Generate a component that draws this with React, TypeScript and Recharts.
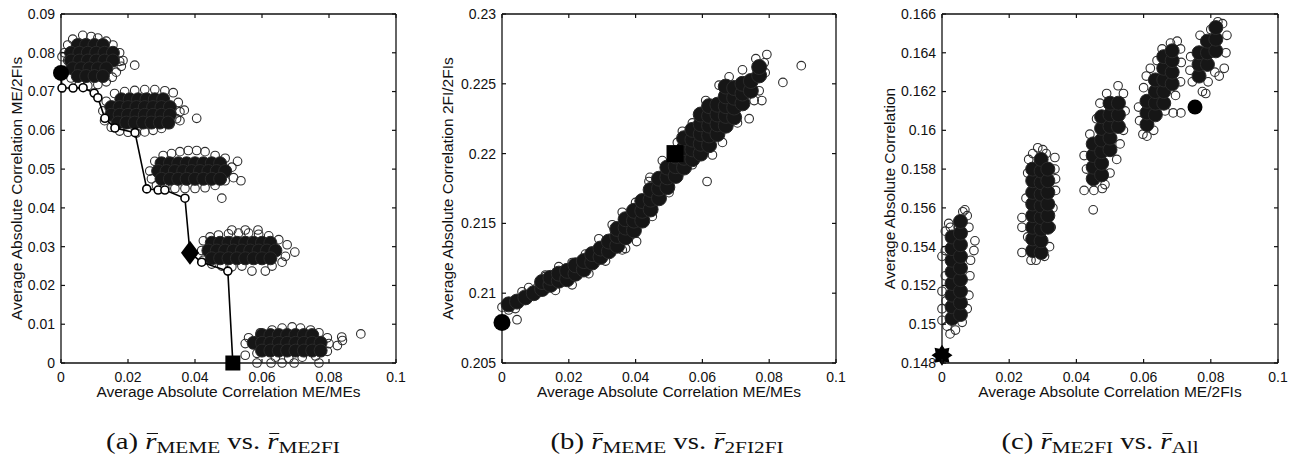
import React from 'react';
import { ScatterChart, Scatter, XAxis, YAxis } from 'recharts';

type P = [number, number];

// ---------------- Panel (a): r_MEME vs r_ME2FI ----------------
const aXTicks = [0, 0.02, 0.04, 0.06, 0.08, 0.1];
const aYTicks = [0, 0.01, 0.02, 0.03, 0.04, 0.05, 0.06, 0.07, 0.08, 0.09];
const aCore: P[] = [
  [0.005, 0.082], [0.0075, 0.082], [0.01, 0.082], [0.0125, 0.082],
  [0.003, 0.08], [0.0055, 0.08], [0.008, 0.08], [0.0105, 0.08], [0.013, 0.08], [0.0155, 0.08],
  [0.003, 0.078], [0.0055, 0.078], [0.008, 0.078], [0.0105, 0.078], [0.013, 0.078], [0.0155, 0.078],
  [0.0035, 0.076], [0.006, 0.076], [0.0085, 0.076], [0.011, 0.076], [0.0135, 0.076],
  [0.005, 0.074], [0.0075, 0.074], [0.01, 0.074], [0.0125, 0.074],
  [0.018, 0.068], [0.0205, 0.068], [0.023, 0.068], [0.0255, 0.068], [0.028, 0.068], [0.0305, 0.068],
  [0.015, 0.066], [0.0175, 0.066], [0.02, 0.066], [0.0225, 0.066], [0.025, 0.066], [0.0275, 0.066], [0.03, 0.066], [0.0325, 0.066],
  [0.015, 0.064], [0.0175, 0.064], [0.02, 0.064], [0.0225, 0.064], [0.025, 0.064], [0.0275, 0.064], [0.03, 0.064], [0.0325, 0.064],
  [0.017, 0.062], [0.0195, 0.062], [0.022, 0.062], [0.0245, 0.062], [0.027, 0.062], [0.0295, 0.062], [0.032, 0.062],
  [0.03, 0.0515], [0.0325, 0.0515], [0.035, 0.0515], [0.0375, 0.0515], [0.04, 0.0515], [0.0425, 0.0515], [0.045, 0.0515], [0.0475, 0.0515],
  [0.029, 0.0495], [0.0315, 0.0495], [0.034, 0.0495], [0.0365, 0.0495], [0.039, 0.0495], [0.0415, 0.0495], [0.044, 0.0495], [0.0465, 0.0495], [0.049, 0.0495],
  [0.03, 0.0475], [0.0325, 0.0475], [0.035, 0.0475], [0.0375, 0.0475], [0.04, 0.0475], [0.0425, 0.0475], [0.045, 0.0475], [0.0475, 0.0475],
  [0.045, 0.031], [0.0475, 0.031], [0.05, 0.031], [0.0525, 0.031], [0.055, 0.031], [0.0575, 0.031], [0.06, 0.031], [0.0625, 0.031],
  [0.044, 0.029], [0.0465, 0.029], [0.049, 0.029], [0.0515, 0.029], [0.054, 0.029], [0.0565, 0.029], [0.059, 0.029], [0.0615, 0.029], [0.064, 0.029],
  [0.045, 0.027], [0.0475, 0.027], [0.05, 0.027], [0.0525, 0.027], [0.055, 0.027], [0.0575, 0.027], [0.06, 0.027], [0.0625, 0.027],
  [0.06, 0.0072], [0.0625, 0.0072], [0.065, 0.0072], [0.0675, 0.0072], [0.07, 0.0072], [0.0725, 0.0072], [0.075, 0.0072],
  [0.0575, 0.0052], [0.06, 0.0052], [0.0625, 0.0052], [0.065, 0.0052], [0.0675, 0.0052], [0.07, 0.0052], [0.0725, 0.0052], [0.075, 0.0052], [0.0775, 0.0052],
  [0.06, 0.0032], [0.0625, 0.0032], [0.065, 0.0032], [0.0675, 0.0032], [0.07, 0.0032], [0.0725, 0.0032], [0.075, 0.0032], [0.0775, 0.0032],
];
const aOpen: P[] = [
  [0.001, 0.08], [0.0003, 0.079], [0.002, 0.082], [0.0035, 0.0835], [0.0065, 0.0845], [0.009, 0.0842], [0.011, 0.0838],
  [0.0135, 0.083], [0.0155, 0.082], [0.0175, 0.08], [0.0185, 0.078], [0.018, 0.0765], [0.0165, 0.075], [0.0153, 0.0737],
  [0.0135, 0.0725], [0.011, 0.0718], [0.008, 0.0715], [0.0055, 0.072], [0.003, 0.0735], [0.0015, 0.0755], [0.022, 0.0768],
  [0.0175, 0.0778], [0.002, 0.078],
  [0.0135, 0.0675], [0.0125, 0.065], [0.013, 0.0625], [0.015, 0.0608], [0.0175, 0.0598], [0.02, 0.0595], [0.0225, 0.0593],
  [0.025, 0.0596], [0.0275, 0.06], [0.03, 0.0605], [0.0325, 0.0615], [0.0345, 0.063], [0.0355, 0.0648], [0.0368, 0.0652],
  [0.035, 0.0672], [0.0335, 0.0697], [0.031, 0.0702], [0.028, 0.0705], [0.025, 0.0705], [0.022, 0.0703], [0.019, 0.07],
  [0.016, 0.0695], [0.0405, 0.0631], [0.0355, 0.0625],
  [0.0265, 0.0495], [0.027, 0.0475], [0.0285, 0.0458], [0.031, 0.0452], [0.034, 0.045], [0.037, 0.045], [0.04, 0.045],
  [0.043, 0.0452], [0.046, 0.0458], [0.049, 0.047], [0.0515, 0.0478], [0.0537, 0.047], [0.0527, 0.052], [0.051, 0.0505],
  [0.049, 0.0528], [0.046, 0.0535], [0.043, 0.0545], [0.0405, 0.0548], [0.038, 0.0548], [0.0355, 0.0545], [0.033, 0.054],
  [0.0305, 0.0535], [0.028, 0.052], [0.048, 0.0425],
  [0.0425, 0.0315], [0.042, 0.029], [0.0425, 0.0265], [0.045, 0.0255], [0.048, 0.025], [0.051, 0.0248], [0.054, 0.025],
  [0.057, 0.0237], [0.061, 0.0237], [0.063, 0.025], [0.066, 0.026], [0.067, 0.0275], [0.0698, 0.0286], [0.0675, 0.0305],
  [0.065, 0.0318], [0.062, 0.0328], [0.059, 0.0332], [0.056, 0.0335], [0.053, 0.0335], [0.05, 0.0333], [0.047, 0.033],
  [0.0445, 0.0325], [0.051, 0.0343], [0.055, 0.0343], [0.0588, 0.0343],
  [0.056, 0.0065], [0.055, 0.005], [0.055, 0.002], [0.0585, 0.0025], [0.0585, 0], [0.0627, 0], [0.066, 0], [0.0696, 0],
  [0.077, 0], [0.064, 0.0015], [0.068, 0.0012], [0.072, 0.0015], [0.076, 0.0018], [0.0795, 0.003], [0.08, 0.005],
  [0.0795, 0.0065], [0.077, 0.0078], [0.0745, 0.0085], [0.0715, 0.009], [0.069, 0.0093], [0.066, 0.009], [0.063, 0.0085],
  [0.0595, 0.0078], [0.0838, 0.0067], [0.084, 0.0058], [0.0895, 0.0075], [0.0825, 0.0045],
];
const aPath: P[] = [
  [0, 0.0748], [0.0003, 0.0709], [0.0036, 0.0709], [0.0066, 0.071], [0.0099, 0.0696], [0.011, 0.0684], [0.0131, 0.0631],
  [0.0161, 0.0606], [0.0221, 0.0594], [0.0256, 0.0449], [0.029, 0.0446], [0.031, 0.0446], [0.037, 0.0425], [0.0385, 0.0284],
  [0.042, 0.026], [0.0498, 0.0237], [0.0513, 0],
];
const aCircle: P[] = [[0, 0.0748]];
const aDiamond: P[] = [[0.0385, 0.0284]];
const aSquare: P[] = [[0.0513, 0]];

// ---------------- Panel (b): r_MEME vs r_2FI2FI ----------------
const bXTicks = [0, 0.02, 0.04, 0.06, 0.08, 0.1];
const bYTicks = [0.205, 0.21, 0.215, 0.22, 0.225, 0.23];
const bCore: P[] = [
  [0.002, 0.2092], [0.0045, 0.2094], [0.007, 0.2097], [0.0095, 0.21],
  [0.012, 0.2103], [0.012, 0.2108], [0.0145, 0.2106], [0.0145, 0.2111], [0.017, 0.2109], [0.017, 0.2114],
  [0.0195, 0.211], [0.0195, 0.2116], [0.022, 0.2114], [0.022, 0.212], [0.0245, 0.2117], [0.0245, 0.2123],
  [0.027, 0.2122], [0.027, 0.2128], [0.0295, 0.2126], [0.0295, 0.2132], [0.032, 0.213], [0.032, 0.2137],
  [0.0345, 0.2134], [0.0345, 0.2141], [0.0345, 0.2146], [0.037, 0.214], [0.037, 0.2147], [0.037, 0.2153],
  [0.0395, 0.2145], [0.0395, 0.2152], [0.0395, 0.2159], [0.042, 0.2152], [0.042, 0.2159], [0.042, 0.2166],
  [0.0445, 0.216], [0.0445, 0.2167], [0.0445, 0.2174], [0.047, 0.2168], [0.047, 0.2175], [0.047, 0.2182],
  [0.0495, 0.2176], [0.0495, 0.2183], [0.0495, 0.219], [0.052, 0.2184], [0.052, 0.2191], [0.052, 0.2198],
  [0.0545, 0.219], [0.0545, 0.2197], [0.0545, 0.2204], [0.0545, 0.2211],
  [0.057, 0.2196], [0.057, 0.2203], [0.057, 0.221], [0.057, 0.2217],
  [0.0595, 0.22], [0.0595, 0.2207], [0.0595, 0.2214], [0.0595, 0.2221], [0.0595, 0.2228],
  [0.062, 0.2206], [0.062, 0.2213], [0.062, 0.222], [0.062, 0.2227], [0.062, 0.2234],
  [0.0645, 0.2214], [0.0645, 0.2221], [0.0645, 0.2228], [0.0645, 0.2235],
  [0.067, 0.222], [0.067, 0.2227], [0.067, 0.2234], [0.067, 0.2241], [0.067, 0.2248],
  [0.0695, 0.2226], [0.0695, 0.2233], [0.0695, 0.224], [0.0695, 0.2247],
  [0.072, 0.2236], [0.072, 0.2243], [0.072, 0.225], [0.0745, 0.2245], [0.0745, 0.2252], [0.077, 0.2256], [0.077, 0.2262],
];
const bOpen: P[] = [
  [0, 0.209], [0.002, 0.2088], [0.004, 0.2089], [0.0045, 0.2081], [0.0105, 0.2104], [0.013, 0.2112], [0.016, 0.2102],
  [0.021, 0.2106], [0.026, 0.2114], [0.031, 0.2123], [0.036, 0.2131], [0.037, 0.2132], [0.0403, 0.2137], [0.0443, 0.2183],
  [0.0614, 0.218], [0.045, 0.2155], [0.05, 0.2172], [0.057, 0.2192], [0.063, 0.2199], [0.066, 0.2208], [0.0705, 0.2222],
  [0.074, 0.2225], [0.0778, 0.2238], [0.0788, 0.2258], [0.0793, 0.2271], [0.0841, 0.2251], [0.0896, 0.2263], [0.0785, 0.2265],
  [0.076, 0.2268], [0.072, 0.226], [0.068, 0.2255], [0.065, 0.2249], [0.061, 0.2238], [0.057, 0.2222], [0.054, 0.2216],
  [0.0525, 0.2208], [0.048, 0.2195], [0.044, 0.218], [0.04, 0.2165], [0.036, 0.2158], [0.033, 0.2149], [0.029, 0.2139],
  [0.025, 0.2128], [0.021, 0.2122], [0.017, 0.2119], [0.013, 0.2113], [0.008, 0.2104], [0.006, 0.2101], [0.0755, 0.2238],
  [0.077, 0.2245],
];
const bCircle: P[] = [[0, 0.2079]];
const bSquare: P[] = [[0.0518, 0.22]];

// ---------------- Panel (c): r_ME2FI vs r_All ----------------
const cXTicks = [0, 0.02, 0.04, 0.06, 0.08, 0.1];
const cYTicks = [0.148, 0.15, 0.152, 0.154, 0.156, 0.158, 0.16, 0.162, 0.164, 0.166];
const cCore: P[] = [
  [0.003, 0.1503], [0.003, 0.1509], [0.003, 0.1515], [0.003, 0.1521], [0.003, 0.1527], [0.003, 0.1533], [0.003, 0.1539], [0.003, 0.1545],
  [0.0055, 0.1505], [0.0055, 0.1511], [0.0055, 0.1517], [0.0055, 0.1523], [0.0055, 0.1529], [0.0055, 0.1535], [0.0055, 0.1541], [0.0055, 0.1547], [0.0055, 0.1553],
  [0.027, 0.1538], [0.027, 0.1544], [0.027, 0.155], [0.027, 0.1556], [0.027, 0.1562], [0.027, 0.1568], [0.027, 0.1574], [0.027, 0.158],
  [0.0295, 0.1537], [0.0295, 0.1543], [0.0295, 0.1549], [0.0295, 0.1555], [0.0295, 0.1561], [0.0295, 0.1567], [0.0295, 0.1573], [0.0295, 0.1579], [0.0295, 0.1585],
  [0.0315, 0.155], [0.0315, 0.1556], [0.0315, 0.1562], [0.0315, 0.1568], [0.0315, 0.1574], [0.0315, 0.158],
  [0.045, 0.1575], [0.045, 0.1581], [0.045, 0.1587], [0.045, 0.1593],
  [0.0475, 0.1577], [0.0475, 0.1583], [0.0475, 0.1589], [0.0475, 0.1595], [0.0475, 0.1601], [0.0475, 0.1607],
  [0.05, 0.159], [0.05, 0.1596], [0.05, 0.1602], [0.05, 0.1608], [0.05, 0.1614],
  [0.0525, 0.1602], [0.0525, 0.1608], [0.0525, 0.1614],
  [0.061, 0.1603], [0.061, 0.1609], [0.061, 0.1615],
  [0.0635, 0.1608], [0.0635, 0.1614], [0.0635, 0.162], [0.0635, 0.1626],
  [0.066, 0.1614], [0.066, 0.162], [0.066, 0.1626], [0.066, 0.1632], [0.066, 0.1638],
  [0.0685, 0.1624], [0.0685, 0.163], [0.0685, 0.1636], [0.0685, 0.1641],
  [0.0765, 0.1628], [0.0765, 0.1634], [0.0765, 0.164],
  [0.079, 0.1634], [0.079, 0.164], [0.079, 0.1646],
  [0.0815, 0.1641], [0.0815, 0.1647], [0.0815, 0.1653],
];
const cOpen: P[] = [
  [0, 0.1535], [0, 0.1517], [0, 0.1508], [0, 0.1502], [0.0024, 0.1495], [0.0015, 0.1499], [0.004, 0.1497], [0.006, 0.1501],
  [0.0075, 0.1508], [0.008, 0.1515], [0.0083, 0.1525], [0.0085, 0.1533], [0.0095, 0.1538], [0.0098, 0.1543], [0.008, 0.155],
  [0.0068, 0.1559], [0.0062, 0.1558], [0.0075, 0.1556], [0.0048, 0.155], [0.0025, 0.155], [0.001, 0.1548], [0.001, 0.1538],
  [0.001, 0.1525], [0.0012, 0.1512], [0.002, 0.1552],
  [0.0238, 0.1555], [0.0238, 0.155], [0.0238, 0.1537], [0.0255, 0.1545], [0.025, 0.1565], [0.0255, 0.1578], [0.0258, 0.1585],
  [0.027, 0.1588], [0.0285, 0.1591], [0.03, 0.159], [0.031, 0.1588], [0.0336, 0.1586], [0.0336, 0.158], [0.0338, 0.1575],
  [0.0338, 0.1569], [0.033, 0.156], [0.0325, 0.155], [0.032, 0.154], [0.0305, 0.1535], [0.028, 0.1533], [0.0265, 0.1533],
  [0.0423, 0.1587], [0.0423, 0.1569], [0.0452, 0.1569], [0.0477, 0.157], [0.045, 0.1559], [0.043, 0.158], [0.044, 0.1598],
  [0.046, 0.1606], [0.047, 0.1614], [0.049, 0.1619], [0.0524, 0.1623], [0.054, 0.1619], [0.0545, 0.161], [0.054, 0.16],
  [0.053, 0.1593], [0.052, 0.1585], [0.05, 0.1578], [0.0485, 0.1572],
  [0.0598, 0.1598], [0.0588, 0.1605], [0.0585, 0.1612], [0.06, 0.1622], [0.0608, 0.1628], [0.062, 0.1632], [0.064, 0.1636],
  [0.0655, 0.1642], [0.068, 0.1645], [0.07, 0.1646], [0.071, 0.1642], [0.0712, 0.1635], [0.071, 0.1625], [0.0688, 0.1609],
  [0.0711, 0.1609], [0.0664, 0.161], [0.063, 0.16], [0.061, 0.1597], [0.0695, 0.1618],
  [0.0738, 0.1631], [0.074, 0.1638], [0.0745, 0.1625], [0.0768, 0.1649], [0.0792, 0.1625], [0.0775, 0.162], [0.08, 0.1652],
  [0.0821, 0.1656], [0.0835, 0.1655], [0.0848, 0.1649], [0.0845, 0.164], [0.084, 0.1632], [0.0825, 0.1628], [0.0812, 0.163],
  [0.0785, 0.1619],
];
const cStar: P[] = [[0, 0.1484]];
const cCircle: P[] = [[0.0753, 0.1612]];

// ---------------- rendering helpers ----------------
const toXY = (arr: P[]) => arr.map(([x, y]) => ({ x, y }));
const fmt = (v: number) => String(parseFloat(v.toFixed(4)));
const SANS = '"Liberation Sans", Arial, Helvetica, sans-serif';
const INK = '#111';
const TICK_LEN = 4;
const TICK_FS = 14;

const BottomTick = (p: any) => (
  <g>
    <line x1={p.x} y1={p.y} x2={p.x} y2={p.y - TICK_LEN} stroke={INK} strokeWidth={1.2} />
    <text x={p.x} y={p.y + 14} dy="0.35em" textAnchor="middle" fontFamily={SANS} fontSize={TICK_FS} fill={INK}>
      {fmt(p.payload.value)}
    </text>
  </g>
);
const TopTick = (p: any) => (
  <line x1={p.x} y1={p.y} x2={p.x} y2={p.y + TICK_LEN} stroke={INK} strokeWidth={1.2} />
);
const LeftTick = (p: any) => (
  <g>
    <line x1={p.x} y1={p.y} x2={p.x + TICK_LEN} y2={p.y} stroke={INK} strokeWidth={1.2} />
    <text x={p.x - 6} y={p.y} dy="0.35em" textAnchor="end" fontFamily={SANS} fontSize={TICK_FS} fill={INK}>
      {fmt(p.payload.value)}
    </text>
  </g>
);
const RightTick = (p: any) => (
  <line x1={p.x} y1={p.y} x2={p.x - TICK_LEN} y2={p.y} stroke={INK} strokeWidth={1.2} />
);

const OpenDot = (p: any) => <circle cx={p.cx} cy={p.cy} r={4.3} fill="none" stroke="#2e2e2e" strokeWidth={1.1} />;
const coreDot = (r: number) => (p: any) => (
  <circle cx={p.cx} cy={p.cy} r={r} fill="#161616" stroke="#2a2a2a" strokeWidth={1} />
);
const PathDot = (p: any) => <circle cx={p.cx} cy={p.cy} r={4} fill="#fff" stroke="#000" strokeWidth={1.6} />;
const bigCircle = (r: number) => (p: any) => <circle cx={p.cx} cy={p.cy} r={r} fill="#000" />;
const DiamondMark = (p: any) => (
  <polygon
    points={`${p.cx},${p.cy - 12} ${p.cx + 9},${p.cy} ${p.cx},${p.cy + 12} ${p.cx - 9},${p.cy}`}
    fill="#000"
  />
);
const squareMark = (s: number) => (p: any) => (
  <rect x={p.cx - s / 2} y={p.cy - s / 2} width={s} height={s} fill="#000" />
);
const StarMark = (p: any) => {
  const pts: string[] = [];
  for (let i = 0; i < 16; i++) {
    const a = (Math.PI * 2 * i) / 16 - Math.PI / 2;
    const r = i % 2 === 0 ? 10.5 : 7;
    pts.push(`${p.cx + r * Math.cos(a)},${p.cy + r * Math.sin(a)}`);
  }
  return <polygon points={pts.join(' ')} fill="#000" />;
};

interface Series {
  data: P[];
  shape: (p: any) => React.ReactElement;
  line?: boolean;
}

interface PanelProps {
  left: number;
  width: number;
  yAxisWidth: number;
  rightGap: number;
  xDomain: [number, number];
  yDomain: [number, number];
  xTicks: number[];
  yTicks: number[];
  xLabel: string;
  yLabel: string;
  yLabelX: number;
  series: Series[];
}

const CHART_H = 412;
const PLOT_TOP = 14;
const PLOT_BOTTOM = 363;

function Panel(props: PanelProps) {
  const { left, width, yAxisWidth, rightGap, xDomain, yDomain, xTicks, yTicks, xLabel, yLabel, yLabelX, series } = props;
  return (
    <div style={{ position: 'absolute', left, top: 0 }}>
      <ScatterChart
        width={width}
        height={CHART_H}
        margin={{ top: PLOT_TOP - 1, right: rightGap - 1, bottom: 0, left: 0 }}
      >
        <XAxis
          xAxisId="b"
          type="number"
          dataKey="x"
          domain={xDomain}
          ticks={xTicks}
          interval={0}
          height={CHART_H - PLOT_BOTTOM}
          tickSize={0}
          tickMargin={0}
          tickLine={false}
          tick={BottomTick}
          axisLine={{ stroke: INK, strokeWidth: 1.3 }}
          label={{
            content: (lp: any) => {
              const vb = lp.viewBox || {};
              return (
                <text
                  x={vb.x + vb.width / 2}
                  y={vb.y + 29}
                  dy="0.35em"
                  textAnchor="middle"
                  fontFamily={SANS}
                  fontSize={15.5}
                  fill={INK}
                >
                  {xLabel}
                </text>
              );
            },
          }}
        />
        <XAxis
          xAxisId="t"
          orientation="top"
          type="number"
          dataKey="x"
          domain={xDomain}
          ticks={xTicks}
          interval={0}
          height={1}
          tickSize={0}
          tickMargin={0}
          tickLine={false}
          tick={TopTick}
          allowDataOverflow
          axisLine={{ stroke: INK, strokeWidth: 1.3 }}
        />
        <YAxis
          yAxisId="l"
          type="number"
          dataKey="y"
          domain={yDomain}
          ticks={yTicks}
          interval={0}
          width={yAxisWidth}
          tickSize={0}
          tickMargin={0}
          tickLine={false}
          tick={LeftTick}
          axisLine={{ stroke: INK, strokeWidth: 1.3 }}
          label={{
            content: (lp: any) => {
              const vb = lp.viewBox || {};
              const cx = vb.x + yLabelX;
              const cy = vb.y + vb.height / 2;
              return (
                <text
                  x={cx}
                  y={cy}
                  dy="0.35em"
                  textAnchor="middle"
                  transform={`rotate(-90, ${cx}, ${cy})`}
                  fontFamily={SANS}
                  fontSize={15.5}
                  fill={INK}
                >
                  {yLabel}
                </text>
              );
            },
          }}
        />
        <YAxis
          yAxisId="r"
          orientation="right"
          type="number"
          dataKey="y"
          domain={yDomain}
          ticks={yTicks}
          interval={0}
          width={1}
          tickSize={0}
          tickMargin={0}
          tickLine={false}
          tick={RightTick}
          allowDataOverflow
          axisLine={{ stroke: INK, strokeWidth: 1.3 }}
        />
        {series.map((s, i) => (
          <Scatter
            key={i}
            xAxisId="b"
            yAxisId="l"
            data={toXY(s.data)}
            shape={s.shape}
            line={s.line ? { stroke: '#000', strokeWidth: 1.6 } : false}
            isAnimationActive={false}
          />
        ))}
      </ScatterChart>
    </div>
  );
}

const SERIF = '"Liberation Serif", "Times New Roman", serif';

function RBar() {
  return (
    <span style={{ position: 'relative', fontStyle: 'italic', display: 'inline-block' }}>
      r
      <span
        style={{
          position: 'absolute',
          left: 1.5,
          right: -1,
          top: 4,
          borderTop: '1.3px solid #111',
        }}
      />
    </span>
  );
}

function Caption({ cx, tag, s1, s2 }: { cx: number; tag: string; s1: string; s2: string }) {
  const sub: React.CSSProperties = { fontSize: 17, verticalAlign: -4 };
  return (
    <div
      style={{
        position: 'absolute',
        left: cx - 200,
        width: 400,
        top: 429,
        textAlign: 'center',
        fontFamily: SERIF,
        fontSize: 23,
        lineHeight: '26px',
        color: '#111',
        whiteSpace: 'nowrap',
        transform: 'scaleX(1.25)',
        transformOrigin: '50% 50%',
      }}
    >
      ({tag}) <RBar />
      <span style={sub}>{s1}</span> vs. <RBar />
      <span style={sub}>{s2}</span>
    </div>
  );
}

export default function App() {
  return (
    <div style={{ position: 'absolute', left: 0, top: 0, width: 1292, height: 459, background: '#fff', overflow: 'hidden' }}>
      <Panel
        left={0}
        width={430}
        yAxisWidth={61}
        rightGap={34}
        xDomain={[0, 0.1]}
        yDomain={[0, 0.09]}
        xTicks={aXTicks}
        yTicks={aYTicks}
        xLabel="Average Absolute Correlation ME/MEs"
        yLabel="Average Absolute Correlation ME/2FIs"
        yLabelX={17}
        series={[
          { data: aOpen, shape: OpenDot },
          { data: aCore, shape: coreDot(6.5) },
          { data: aPath, shape: PathDot, line: true },
          { data: aCircle, shape: bigCircle(8) },
          { data: aDiamond, shape: DiamondMark },
          { data: aSquare, shape: squareMark(15) },
        ]}
      />
      <Panel
        left={430}
        width={440}
        yAxisWidth={72}
        rightGap={34}
        xDomain={[0, 0.1]}
        yDomain={[0.205, 0.23]}
        xTicks={bXTicks}
        yTicks={bYTicks}
        xLabel="Average Absolute Correlation ME/MEs"
        yLabel="Average Absolute Correlation 2FI/2FIs"
        yLabelX={18}
        series={[
          { data: bOpen, shape: OpenDot },
          { data: bCore, shape: coreDot(7.5) },
          { data: bCircle, shape: bigCircle(8.5) },
          { data: bSquare, shape: squareMark(17) },
        ]}
      />
      <Panel
        left={870}
        width={422}
        yAxisWidth={72}
        rightGap={14}
        xDomain={[0, 0.1]}
        yDomain={[0.148, 0.166]}
        xTicks={cXTicks}
        yTicks={cYTicks}
        xLabel="Average Absolute Correlation ME/2FIs"
        yLabel="Average Absolute Correlation"
        yLabelX={20}
        series={[
          { data: cOpen, shape: OpenDot },
          { data: cCore, shape: coreDot(7) },
          { data: cStar, shape: StarMark },
          { data: cCircle, shape: bigCircle(7.5) },
        ]}
      />
      <Caption cx={223} tag="a" s1="MEME" s2="ME2FI" />
      <Caption cx={667} tag="b" s1="MEME" s2="2FI2FI" />
      <Caption cx={1100} tag="c" s1="ME2FI" s2="All" />
    </div>
  );
}
